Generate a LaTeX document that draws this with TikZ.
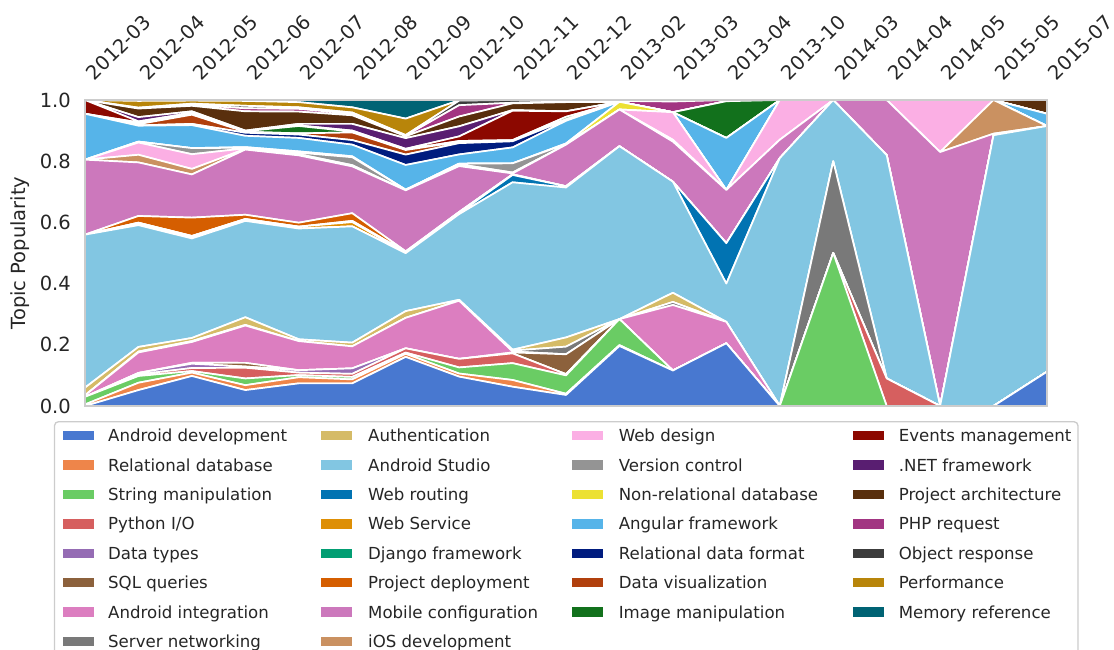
\documentclass[tikz,border=0pt]{standalone}
\usepackage{fontspec}
\setmainfont{DejaVu Sans}
\usepackage{pgfplots}
\usepackage{pgfplotstable}
\pgfplotsset{compat=1.18}

% muted / colorblind / dark palettes, one colour per topic
\definecolor{c0}{HTML}{4878D0}\definecolor{c1}{HTML}{EE854A}\definecolor{c2}{HTML}{6ACC64}
\definecolor{c3}{HTML}{D65F5F}\definecolor{c4}{HTML}{956CB4}\definecolor{c5}{HTML}{8C613C}
\definecolor{c6}{HTML}{DC7EC0}\definecolor{c7}{HTML}{797979}\definecolor{c8}{HTML}{D5BB67}
\definecolor{c9}{HTML}{82C6E2}\definecolor{c10}{HTML}{0173B2}\definecolor{c11}{HTML}{DE8F05}
\definecolor{c12}{HTML}{029E73}\definecolor{c13}{HTML}{D55E00}\definecolor{c14}{HTML}{CC78BC}
\definecolor{c15}{HTML}{CA9161}\definecolor{c16}{HTML}{FBAFE4}\definecolor{c17}{HTML}{949494}
\definecolor{c18}{HTML}{ECE133}\definecolor{c19}{HTML}{56B4E9}\definecolor{c20}{HTML}{001C7F}
\definecolor{c21}{HTML}{B1400D}\definecolor{c22}{HTML}{12711C}\definecolor{c23}{HTML}{8C0800}
\definecolor{c24}{HTML}{591E71}\definecolor{c25}{HTML}{592F0D}\definecolor{c26}{HTML}{A23582}
\definecolor{c27}{HTML}{3C3C3C}\definecolor{c28}{HTML}{B8850A}\definecolor{c29}{HTML}{006374}
\definecolor{framegray}{HTML}{CCCCCC}
\definecolor{inkgray}{HTML}{262626}

% topic shares per month (rows) and topic (columns s0..s29)
\pgfplotstableread{
i  s0    s1    s2    s3    s4    s5    s6    s7    s8    s9    s10   s11   s12   s13   s14   s15   s16   s17   s18   s19   s20   s21   s22   s23   s24   s25   s26   s27   s28   s29
0  0     0.005 0.025 0     0     0     0.005 0     0.025 0.50  0     0     0     0     0.245 0     0     0     0     0.15  0     0     0     0.045 0     0     0     0     0     0
1  0.052 0.024 0.022 0.005 0.005 0     0.067 0.003 0.015 0.398 0.005 0.003 0     0.022 0.175 0.025 0.04  0.003 0     0.052 0.001 0.004 0.006 0.003 0.014 0.028 0.001 0.002 0.022 0.003
2  0.098 0.011 0.005 0.01  0.014 0.003 0.068 0.003 0.01  0.325 0.005 0.003 0     0.06  0.141 0.018 0.048 0.02  0     0.075 0.004 0.03  0.006 0     0.005 0.018 0.003 0.004 0.01  0.002
3  0.052 0.016 0.022 0.035 0.004 0.012 0.122 0.002 0.025 0.315 0.003 0.003 0     0.014 0.213 0.002 0.002 0.002 0.002 0.037 0.01  0.003 0.002 0     0.002 0.063 0.01  0.008 0.016 0.003
4  0.074 0.02  0.007 0.008 0.008 0     0.095 0     0.006 0.362 0     0.006 0     0.013 0.22  0     0.004 0.005 0.004 0.044 0.011 0.004 0.024 0.002 0.005 0.04  0.009 0.005 0.017 0.007
5  0.074 0.013 0.008 0.01  0.018 0     0.072 0     0.012 0.38  0     0.014 0.004 0.025 0.153 0     0.004 0.026 0.003 0.038 0.015 0.025 0.003 0.003 0.022 0.028 0.005 0.004 0.017 0.024
6  0.161 0.01  0.004 0.014 0     0     0.10  0     0.022 0.19  0     0.002 0.002 0.002 0.20  0     0     0.002 0     0.081 0.034 0.015 0.002 0.002 0.035 0.006 0.002 0.002 0.054 0.061
7  0.096 0.01  0.02  0.028 0     0     0.19  0     0.003 0.28  0.003 0     0.004 0     0.15  0     0.006 0.002 0     0.03  0.037 0.004 0.003 0.015 0.033 0.032 0.037 0.015 0.001 0.001
8  0.063 0.022 0.055 0.032 0     0.003 0.003 0.003 0.003 0.547 0.024 0     0.002 0     0.003 0     0.003 0.03  0     0.052 0.02  0.002 0.002 0.096 0.002 0.022 0.002 0.009 0     0
9  0.036 0.004 0.06  0.004 0     0.065 0     0.025 0.03  0.49  0.004 0     0     0     0.136 0     0     0.002 0.002 0.074 0.003 0.002 0.008 0.018 0     0.03  0.002 0.005 0     0
10 0.196 0.003 0.085 0     0     0     0     0     0     0.565 0     0     0     0     0.12  0     0     0     0.025 0     0     0     0     0     0     0     0.003 0.003 0     0
11 0.116 0     0     0     0     0     0.214 0.01  0.03  0.363 0     0     0     0     0.131 0.006 0.09  0     0     0     0     0     0     0     0     0     0.035 0.005 0     0
12 0.205 0     0     0     0     0     0.07  0     0     0.125 0.132 0     0     0     0.174 0     0     0     0     0.17  0     0     0.12  0     0     0     0.004 0     0     0
13 0     0     0     0     0     0     0     0     0     0.81  0     0     0     0     0.06  0     0.13  0     0     0     0     0     0     0     0     0     0     0     0     0
14 0     0     0.5   0     0     0     0     0.3   0     0.2   0     0     0     0     0     0     0     0     0     0     0     0     0     0     0     0     0     0     0     0
15 0     0     0     0.09  0     0     0     0     0     0.73  0     0     0     0     0.18  0     0     0     0     0     0     0     0     0     0     0     0     0     0     0
16 0     0     0     0     0     0     0     0     0     0     0     0     0     0     0.83  0     0.17  0     0     0     0     0     0     0     0     0     0     0     0     0
17 0     0     0     0     0     0     0     0     0     0.885 0     0     0     0     0.005 0.11  0     0     0     0     0     0     0     0     0     0     0     0     0     0
18 0.112 0     0     0     0     0     0     0     0     0.803 0     0     0     0     0     0     0     0     0     0.04  0     0     0     0     0     0.045 0     0     0     0
}\topicdata
\pgfplotstablecreatecol[create col/expr={\thisrow{s0}+\thisrow{s1}+\thisrow{s2}+\thisrow{s3}+\thisrow{s4}+\thisrow{s5}+\thisrow{s6}+\thisrow{s7}+\thisrow{s8}+\thisrow{s9}+\thisrow{s10}+\thisrow{s11}+\thisrow{s12}+\thisrow{s13}+\thisrow{s14}+\thisrow{s15}+\thisrow{s16}+\thisrow{s17}+\thisrow{s18}+\thisrow{s19}+\thisrow{s20}+\thisrow{s21}+\thisrow{s22}+\thisrow{s23}+\thisrow{s24}+\thisrow{s25}+\thisrow{s26}+\thisrow{s27}+\thisrow{s28}+\thisrow{s29}}]{tot}\topicdata

% one legend column: first colour index, patch x, text x, entries
\newcommand\legendcolumn[4]{%
  \foreach \lname [count=\lrow from 0] in {#4} {
    \pgfmathtruncatemacro\lidx{#1+\lrow}
    \fill[c\lidx] (#2,{431.05+29.4*\lrow}) rectangle ++(31,9.3);
    \node[legtext] (leg\lidx) at (#3,{441.7+29.4*\lrow}) {\lname};
  }}

\begin{document}
\begin{tikzpicture}[x=1pt,y=-1pt,
  ticklab/.style={inner sep=0pt, text=inkgray, font=\fontsize{19.5pt}{23pt}\selectfont},
  legtext/.style={anchor=base west, inner sep=0pt, text=inkgray, font=\fontsize{16.6pt}{19pt}\selectfont}]
\useasboundingbox (0,0) rectangle (1114,650);
\clip (0,0) rectangle (1114,650);

% stacked areas
\begin{scope}[x=1pt,y=1pt]
\begin{axis}[at={(85pt,-406pt)}, anchor=south west,
  width=962pt, height=306pt, scale only axis,
  xmin=0, xmax=18, ymin=0, ymax=1, enlargelimits=false,
  stack plots=y, axis on top,
  axis line style={framegray, line width=1.3pt},
  xtick=\empty, ytick=\empty]
\pgfplotsinvokeforeach{0,...,29}{
  \addplot[fill=c#1, draw=white, line width=1.7pt, line join=round]
    table[x=i, y expr=\thisrow{s#1}/\thisrow{tot}] {\topicdata} \closedcycle;
}
\end{axis}
\end{scope}

% y ticks and label
\foreach \v/\t [count=\k] in {0/0.0,0.2/0.2,0.4/0.4,0.6/0.6,0.8/0.8,1/1.0}
  \node[ticklab, anchor=east] (ytick\k) at (71,{406-306*\v}) {\t};
\node[ticklab, rotate=90] (ylabel) at (20,253) {Topic Popularity};

% month labels along the top
\foreach \t [count=\k from 0] in {2012-03,2012-04,2012-05,2012-06,2012-07,2012-08,2012-09,2012-10,2012-11,2012-12,2013-02,2013-03,2013-04,2013-10,2014-03,2014-04,2014-05,2015-05,2015-07}
  \node[ticklab, rotate=45, anchor=south west] (xtick\k) at ({95+53.444*\k},82) {\t};

% legend
\draw[framegray, line width=1.3pt, fill=white, rounded corners=4pt] (54.5,421.7) rectangle (1078,700);
\legendcolumn{0}{62.5}{108}{Android development,Relational database,String manipulation,{Python I/O},Data types,SQL queries,Android integration,Server networking}
\legendcolumn{8}{321}{368}{Authentication,Android Studio,Web routing,Web Service,Django framework,Project deployment,Mobile configuration,iOS development}
\legendcolumn{16}{572}{618.6}{Web design,Version control,Non-relational database,Angular framework,Relational data format,Data visualization,Image manipulation}
\legendcolumn{23}{852.5}{898.6}{Events management,.NET framework,Project architecture,PHP request,Object response,Performance,Memory reference}
\end{tikzpicture}
\end{document}
